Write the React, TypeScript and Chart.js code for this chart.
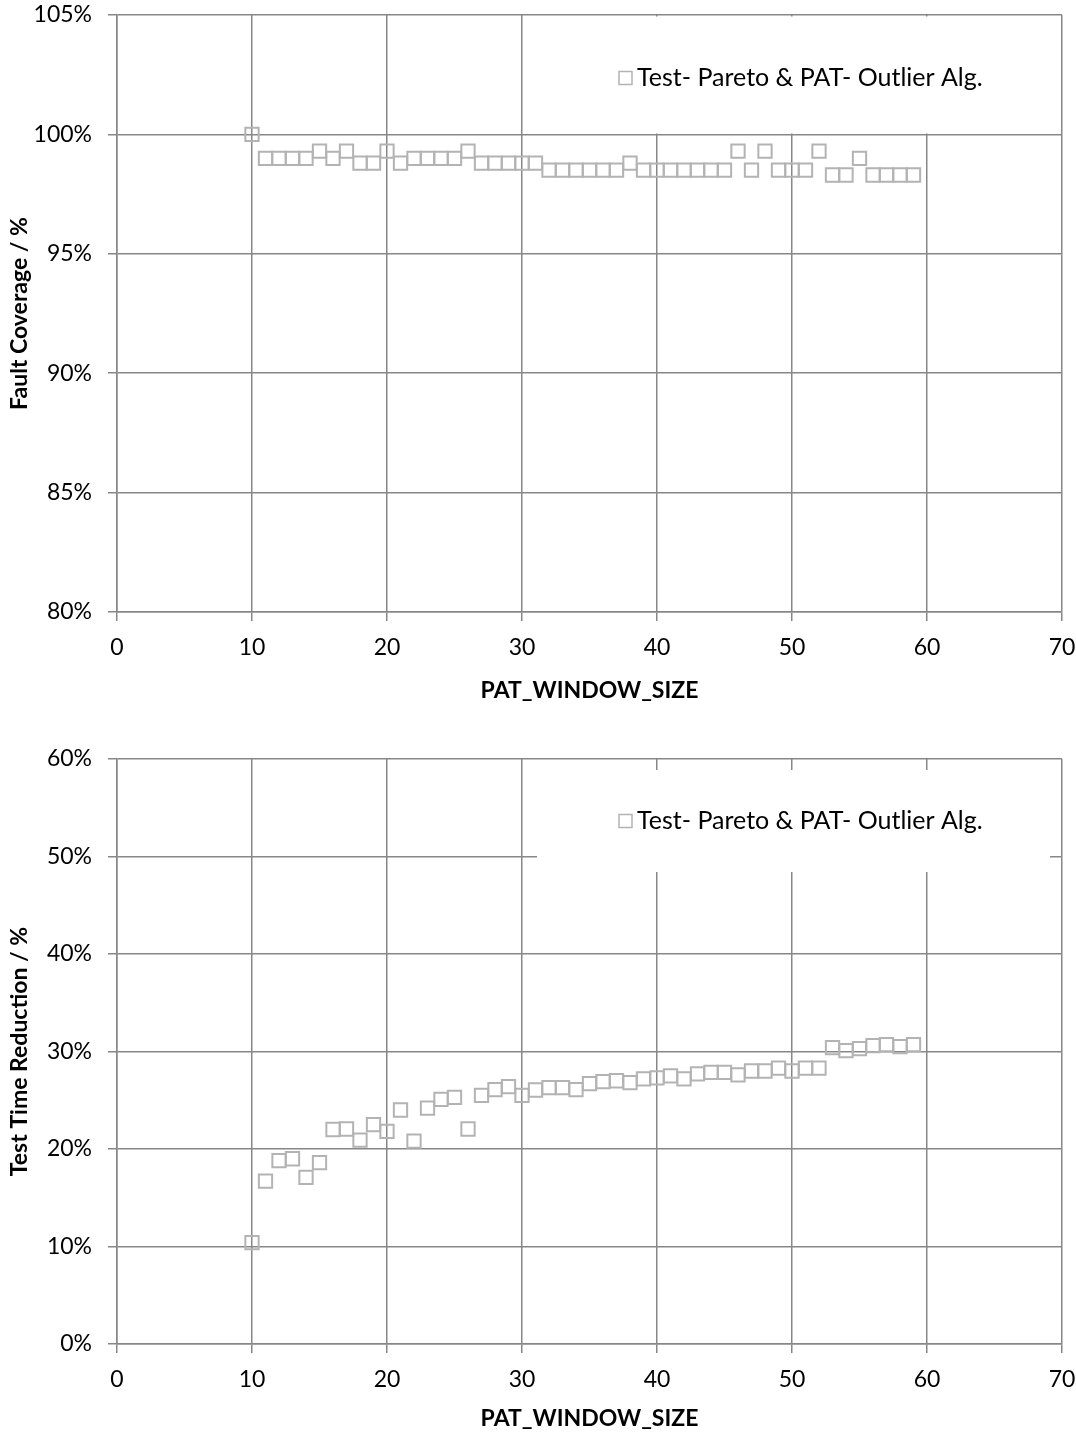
import React, { useEffect, useRef } from "react";
import { Chart, registerables } from "chart.js";

Chart.register(...registerables);

// ---------- data ----------
const windowSizes = [
  10, 11, 12, 13, 14, 15, 16, 17, 18, 19,
  20, 21, 22, 23, 24, 25, 26, 27, 28, 29,
  30, 31, 32, 33, 34, 35, 36, 37, 38, 39,
  40, 41, 42, 43, 44, 45, 46, 47, 48, 49,
  50, 51, 52, 53, 54, 55, 56, 57, 58, 59,
];

// Fault coverage (%)
const faultCoverage = [
  100.0, 99.0, 99.0, 99.0, 99.0, 99.3, 99.0, 99.3, 98.8, 98.8,
  99.3, 98.8, 99.0, 99.0, 99.0, 99.0, 99.3, 98.8, 98.8, 98.8,
  98.8, 98.8, 98.5, 98.5, 98.5, 98.5, 98.5, 98.5, 98.8, 98.5,
  98.5, 98.5, 98.5, 98.5, 98.5, 98.5, 99.3, 98.5, 99.3, 98.5,
  98.5, 98.5, 99.3, 98.3, 98.3, 99.0, 98.3, 98.3, 98.3, 98.3,
];

// Test time reduction (%)
const testTimeReduction = [
  10.4, 16.7, 18.8, 19.0, 17.1, 18.6, 22.0, 22.05, 20.9, 22.5,
  21.8, 24.0, 20.8, 24.2, 25.1, 25.3, 22.05, 25.5, 26.1, 26.4,
  25.5, 26.05, 26.3, 26.3, 26.1, 26.7, 26.9, 27.0, 26.8, 27.2,
  27.3, 27.5, 27.2, 27.7, 27.85, 27.85, 27.6, 28.0, 28.0, 28.3,
  28.0, 28.3, 28.3, 30.4, 30.1, 30.3, 30.6, 30.7, 30.5, 30.7,
];

const seriesLabel = "Test- Pareto & PAT- Outlier Alg.";
const xTitle = "PAT_WINDOW_SIZE";
const topYTitle = "Fault Coverage / %";
const bottomYTitle = "Test Time Reduction / %";
const xTicks = { min: 0, max: 70, step: 10 };
const topYTicks = { min: 80, max: 105, step: 5 };
const bottomYTicks = { min: 0, max: 60, step: 10 };

// ---------- styles ----------
const FONT = "Lato, 'Open Sans', sans-serif";
const GRID = "#878787";
const MARKER = "#b3b3b3";
const W = 1076;

const boxLegend = {
  id: "boxLegend",
  beforeDatasetsDraw(chart: any, _args: any, opts: any) {
    const { ctx } = chart;
    ctx.save();
    ctx.fillStyle = "#ffffff";
    ctx.fillRect(opts.x, opts.y, opts.w, opts.h);
    const label = chart.data.datasets[0].label;
    ctx.strokeStyle = MARKER;
    ctx.lineWidth = 1.5;
    ctx.strokeRect(opts.mx, opts.cy - opts.ms / 2, opts.ms, opts.ms);
    ctx.fillStyle = "#000";
    ctx.font = `${opts.fontSize}px ${FONT}`;
    ctx.textBaseline = "middle";
    ctx.textAlign = "left";
    ctx.fillText(label, opts.tx, opts.cy);
    ctx.restore();
  },
};

function makeConfig(
  values: number[],
  yt: { min: number; max: number; step: number },
  yTitle: string,
  padTop: number,
  xAxisHeight: number,
  xTitlePadBottom: number,
  legend: any
) {
  const gridOpts = {
    color: GRID,
    lineWidth: 1.5,
    drawTicks: true,
    tickLength: 9,
    tickColor: GRID,
  };
  return {
    type: "scatter",
    data: {
      datasets: [
        {
          label: seriesLabel,
          data: windowSizes.map((x, i) => ({ x, y: values[i] })),
          pointStyle: "rect",
          pointRadius: 9.4,
          pointHoverRadius: 9.4,
          pointBorderColor: MARKER,
          pointBorderWidth: 2,
          pointBackgroundColor: "rgba(0,0,0,0)",
          showLine: false,
        },
      ],
    },
    options: {
      responsive: false,
      animation: false,
      devicePixelRatio: 1,
      layout: { padding: { top: padTop, right: 14, left: 0, bottom: 0 } },
      plugins: {
        legend: { display: false },
        tooltip: { enabled: false },
        boxLegend: legend,
      },
      scales: {
        x: {
          type: "linear",
          min: xTicks.min,
          max: xTicks.max,
          ticks: {
            stepSize: xTicks.step,
            color: "#000",
            font: { family: FONT, size: 23 },
            padding: 13,
            maxRotation: 0,
          },
          grid: gridOpts,
          border: { color: GRID, width: 1.5 },
          title: {
            display: true,
            text: xTitle,
            color: "#000",
            font: { family: FONT, size: 23, weight: "bold" },
            padding: { top: 0, bottom: xTitlePadBottom },
          },
          afterFit: (s: any) => {
            s.height = xAxisHeight;
            s.paddingLeft = 0;
            s.paddingRight = 0;
          },
        },
        y: {
          type: "linear",
          min: yt.min,
          max: yt.max,
          ticks: {
            stepSize: yt.step,
            color: "#000",
            font: { family: FONT, size: 23 },
            padding: 16,
            callback: (v: any) => `${v}%`,
          },
          grid: gridOpts,
          border: { color: GRID, width: 1.5 },
          title: {
            display: true,
            text: yTitle,
            color: "#000",
            font: { family: FONT, size: 23, weight: "bold" },
            padding: { top: 6, bottom: 0 },
          },
          afterFit: (s: any) => {
            s.width = 117;
            s.paddingTop = 0;
            s.paddingBottom = 0;
          },
        },
      },
    },
    plugins: [boxLegend],
  } as any;
}

function ChartCanvas({ config, height }: { config: any; height: number }) {
  const ref = useRef<HTMLCanvasElement | null>(null);
  useEffect(() => {
    if (!ref.current) return;
    const chart = new Chart(ref.current, config);
    return () => chart.destroy();
  }, [config]);
  return (
    <canvas
      ref={ref}
      width={W}
      height={height}
      style={{ display: "block", width: W, height }}
    />
  );
}

const topConfig = makeConfig(
  faultCoverage,
  topYTicks,
  topYTitle,
  15,
  108,
  16,
  { x: 537, y: 16.5, w: 513, h: 117, mx: 619, ms: 13, tx: 637, cy: 78, fontSize: 25 }
);

const bottomConfig = makeConfig(
  testTimeReduction,
  bottomYTicks,
  bottomYTitle,
  39,
  88,
  0,
  { x: 537, y: 50, w: 513, h: 102, mx: 619, ms: 13, tx: 637, cy: 101, fontSize: 25 }
);

export default function App() {
  return (
    <div
      style={{
        position: "absolute",
        left: 0,
        top: 0,
        width: W,
        height: 1432,
        background: "#ffffff",
      }}
    >
      <ChartCanvas config={topConfig} height={720} />
      <ChartCanvas config={bottomConfig} height={712} />
    </div>
  );
}
